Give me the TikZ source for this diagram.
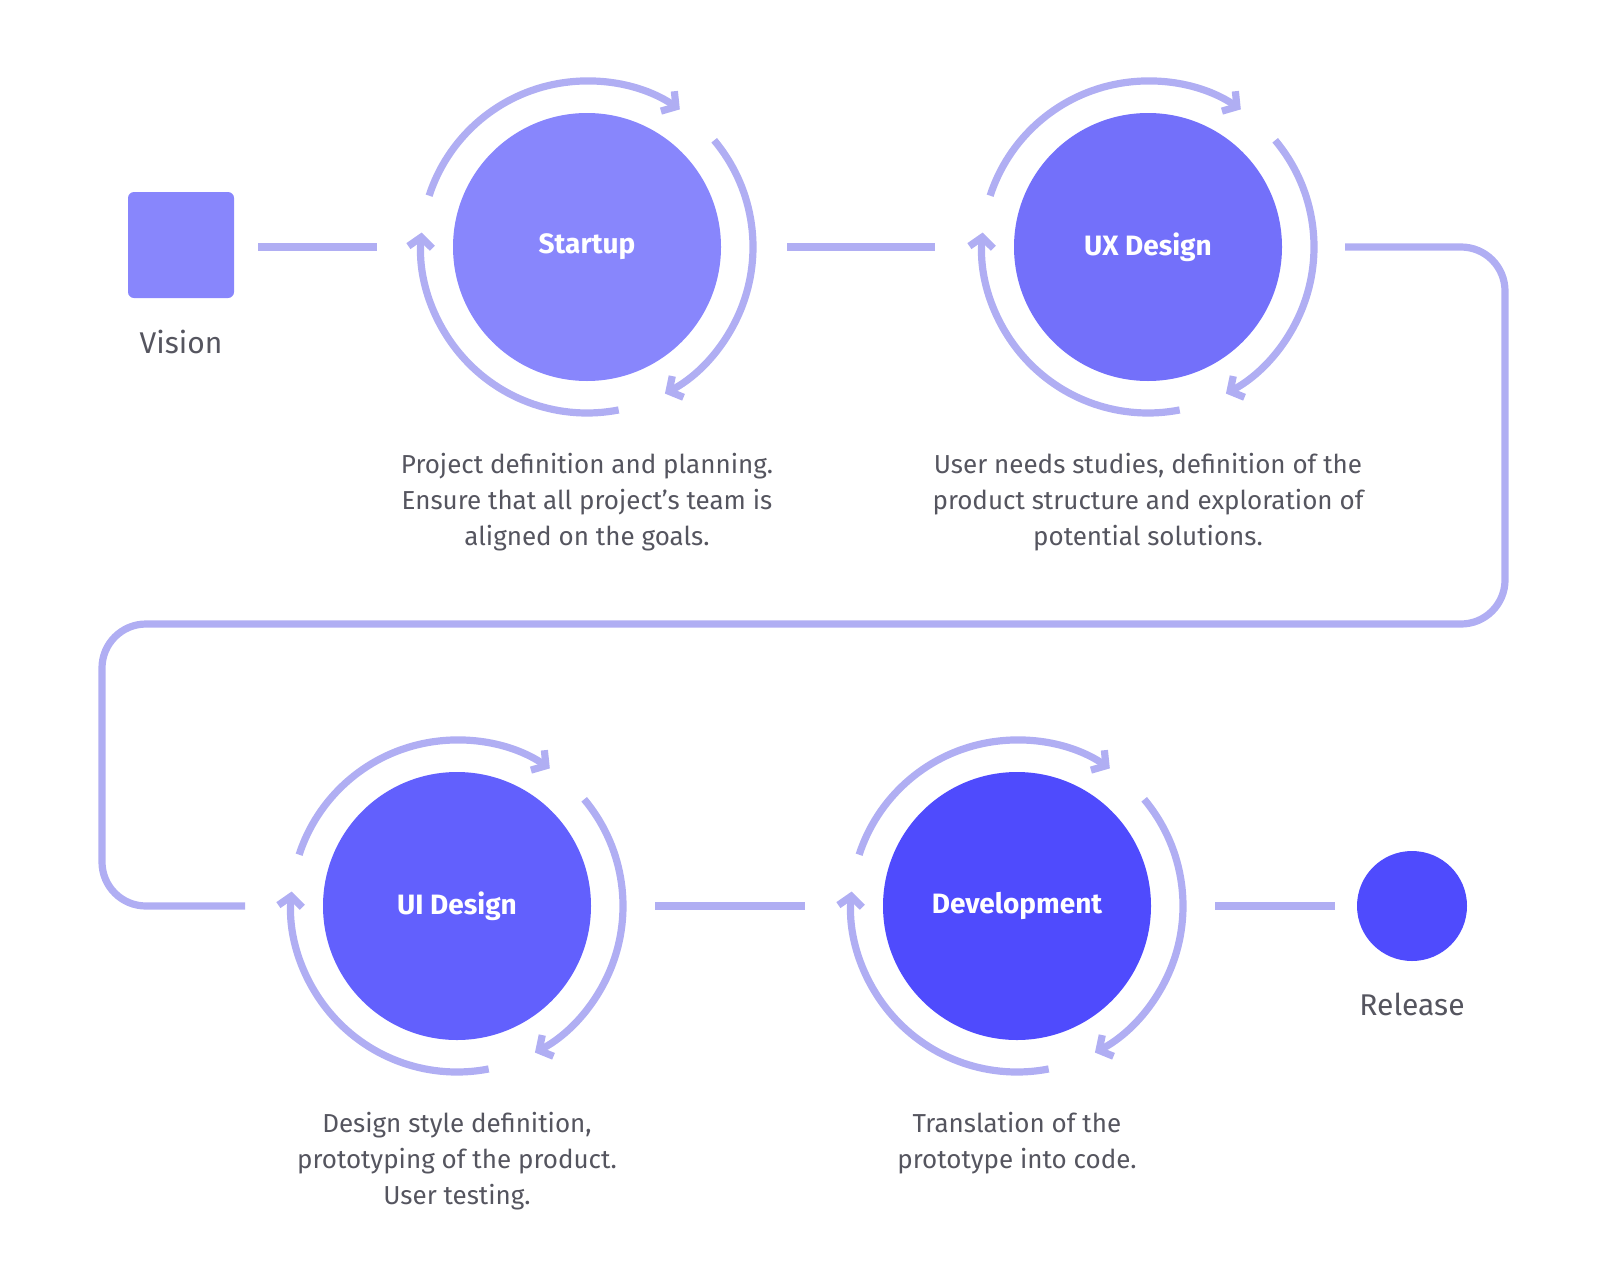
\documentclass[tikz,border=0pt]{standalone}
\usepackage{fontspec}
\setmainfont{Fira Sans}
\usetikzlibrary{arrows.meta}
\definecolor{ring}{HTML}{B0AEF3}
\definecolor{txt}{HTML}{55555F}
\definecolor{cA}{HTML}{8886FC}
\definecolor{cB}{HTML}{7370FA}
\definecolor{cC}{HTML}{6260FD}
\definecolor{cD}{HTML}{4F4BFD}
\tikzset{x=0.5pt,y=-0.5pt,
 conn/.style={draw=ring,line width=3.6pt},
 arr/.style={draw=ring,line width=3.6pt,-{Straight Barb[length=5pt,width=12pt,line width=3.6pt]}},
 stage/.style={circle,minimum size=134pt,inner sep=0pt,text=white,font=\fontsize{14}{16}\selectfont\bfseries},
 desc/.style={align=center,text=txt,font=\fontsize{13}{18}\selectfont},
 lab/.style={text=txt,font=\fontsize{15}{18}\selectfont}}
\newcommand{\ringarcs}[1]{%
 \draw[arr] ($(#1)+(162:166pt)$) arc[start angle=-162,end angle=-56,radius=83pt];}
\begin{document}
\begin{tikzpicture}
\useasboundingbox (0,0) rectangle (1600,1274);
\node[fill=cA,rounded corners=3pt,minimum size=53pt,inner sep=0pt] (vis) at (181,245) {};
\node[lab] (vislab) at (181,342) {Vision};
\node[stage,fill=cA] (s1) at (587,247) {Startup};
\node[stage,fill=cB] (s2) at (1148,247) {UX Design};
\node[stage,fill=cC] (s3) at (457,906) {UI Design};
\node[stage,fill=cD] (s4) at (1017,906) {Development};
\node[circle,fill=cD,minimum size=55pt,inner sep=0pt] (rel) at (1412,906) {};
\node[lab] (rellab) at (1412,1004) {Release};
\foreach \c in {s1,s2,s3,s4}{
 \draw[arr] (\c.center) ++(162:83pt) arc[start angle=162,end angle=56,radius=83pt];
 \draw[arr] (\c.center) ++(40:83pt) arc[start angle=40,end angle=-62,radius=83pt];
 \draw[arr] (\c.center) ++(-79:83pt) arc[start angle=-79,end angle=-185,radius=83pt];
}
\coordinate (a1) at (258,247); \coordinate (a2) at (377,247);
\draw[conn] (a1) -- (a2);
\coordinate (b1) at (787,247); \coordinate (b2) at (935,247);
\draw[conn] (b1) -- (b2);
\coordinate (c1) at (1345,247); \coordinate (c2) at (245,906);
\draw[conn,rounded corners=22pt] (c1) -- (1505,247) -- (1505,624) -- (102,624) -- (102,906) -- (c2);
\coordinate (d1) at (655,906); \coordinate (d2) at (805,906);
\draw[conn] (d1) -- (d2);
\coordinate (e1) at (1215,906); \coordinate (e2) at (1335,906);
\draw[conn] (e1) -- (e2);
\node[desc] (t1) at (587,502) {Project definition and planning.\\Ensure that all project's team is\\aligned on the goals.};
\node[desc] (t2) at (1148,502) {User needs studies, definition of the\\product structure and exploration of\\potential solutions.};
\node[desc] (t3) at (457,1161) {Design style definition,\\prototyping of the product.\\User testing.};
\node[desc] (t4) at (1017,1143) {Translation of the\\prototype into code.};
\end{tikzpicture}
\end{document}
